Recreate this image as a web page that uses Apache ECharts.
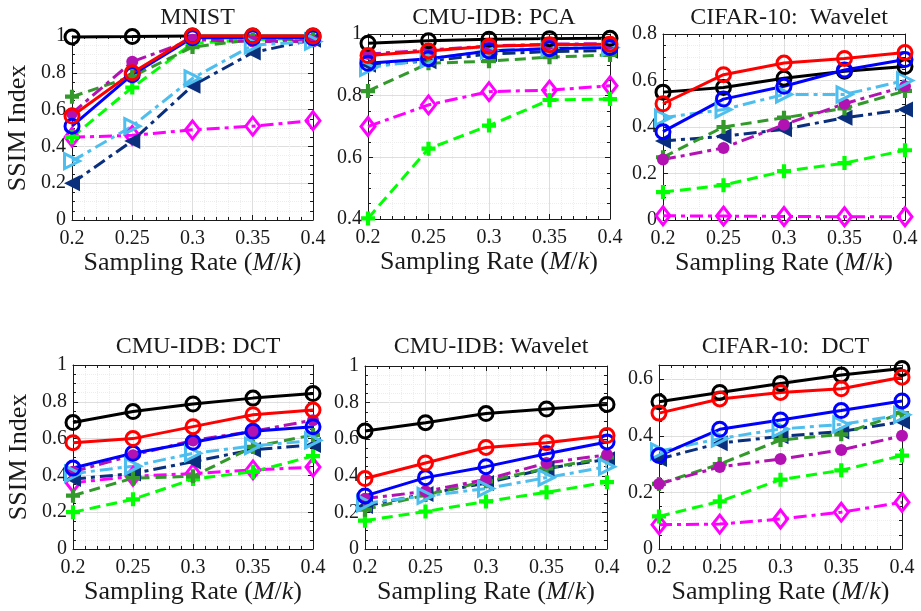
<!DOCTYPE html>
<html>
<head>
<meta charset="utf-8">
<script src="https://cdn.jsdelivr.net/npm/echarts@6/dist/echarts.min.js"></script>
<style>
  html, body { margin: 0; padding: 0; background: #fff; }
  #chart { width: 921px; height: 611px; }
</style>
</head>
<body>
<div id="chart"></div>
<script>
// Sampling rates (M/k) on every x axis
const rates = [0.2, 0.25, 0.3, 0.35, 0.4];
const xTicks = ['0.2', '0.25', '0.3', '0.35', '0.4'];

// Row order inside each panel array
const methods = ['black', 'red', 'blue', 'skyblue', 'navy', 'purple', 'darkgreen', 'lime', 'magenta'];

// SSIM index per method, per panel
const mnist = [
  [0.995, 0.997, 1.0, 1.0, 1.0],
  [0.565, 0.80, 1.0, 1.0, 1.0],
  [0.51, 0.79, 0.99, 0.99, 0.99],
  [0.32, 0.51, 0.77, 0.95, 0.97],
  [0.20, 0.43, 0.73, 0.91, 0.98],
  [0.58, 0.86, 0.98, 0.97, 0.97],
  [0.67, 0.78, 0.94, 0.98, 0.98],
  [0.45, 0.72, 0.96, 0.98, 0.99],
  [0.45, 0.46, 0.49, 0.51, 0.54]
];
const cmuPca = [
  [0.97, 0.978, 0.983, 0.985, 0.986],
  [0.93, 0.945, 0.96, 0.965, 0.967],
  [0.905, 0.92, 0.945, 0.952, 0.956],
  [0.89, 0.918, 0.947, 0.954, 0.956],
  [0.90, 0.912, 0.935, 0.943, 0.946],
  [0.935, 0.948, 0.961, 0.967, 0.969],
  [0.815, 0.905, 0.912, 0.925, 0.932],
  [0.402, 0.628, 0.703, 0.786, 0.789],
  [0.70, 0.77, 0.813, 0.818, 0.832]
];
const cifarWavelet = [
  [0.55, 0.57, 0.61, 0.64, 0.66],
  [0.50, 0.625, 0.675, 0.695, 0.72],
  [0.38, 0.52, 0.575, 0.645, 0.69],
  [0.44, 0.475, 0.54, 0.54, 0.60],
  [0.34, 0.36, 0.39, 0.44, 0.475],
  [0.26, 0.31, 0.41, 0.50, 0.575],
  [0.27, 0.40, 0.44, 0.48, 0.555],
  [0.12, 0.15, 0.21, 0.245, 0.30],
  [0.018, 0.017, 0.015, 0.014, 0.014]
];
const cmuDct = [
  [0.687, 0.747, 0.788, 0.82, 0.845],
  [0.578, 0.60, 0.665, 0.73, 0.755],
  [0.44, 0.52, 0.58, 0.64, 0.665],
  [0.41, 0.45, 0.52, 0.56, 0.59],
  [0.38, 0.41, 0.475, 0.54, 0.565],
  [0.42, 0.51, 0.59, 0.64, 0.70],
  [0.29, 0.385, 0.395, 0.555, 0.62],
  [0.20, 0.27, 0.38, 0.42, 0.505],
  [0.36, 0.395, 0.41, 0.43, 0.445]
];
const cmuWavelet = [
  [0.645, 0.69, 0.74, 0.765, 0.79],
  [0.385, 0.47, 0.555, 0.58, 0.62],
  [0.29, 0.39, 0.45, 0.52, 0.585],
  [0.25, 0.29, 0.33, 0.39, 0.45],
  [0.235, 0.30, 0.36, 0.44, 0.49],
  [0.275, 0.315, 0.38, 0.47, 0.515],
  [0.215, 0.295, 0.37, 0.44, 0.50],
  [0.155, 0.205, 0.26, 0.31, 0.365],
  [null, null, null, null, null]
];
const cifarDct = [
  [0.52, 0.553, 0.585, 0.615, 0.638],
  [0.48, 0.53, 0.553, 0.566, 0.607],
  [0.33, 0.423, 0.456, 0.489, 0.523],
  [0.345, 0.39, 0.424, 0.44, 0.474],
  [0.318, 0.374, 0.398, 0.415, 0.45],
  [0.23, 0.29, 0.318, 0.35, 0.40],
  [0.23, 0.30, 0.385, 0.405, 0.48],
  [0.115, 0.168, 0.245, 0.278, 0.33],
  [0.086, 0.088, 0.106, 0.13, 0.165]
];

const panelTitles = ['MNIST', 'CMU-IDB: PCA', 'CIFAR-10:  Wavelet', 'CMU-IDB: DCT', 'CMU-IDB: Wavelet', 'CIFAR-10:  DCT'];
const panelData = [mnist, cmuPca, cifarWavelet, cmuDct, cmuWavelet, cifarDct];
const yMin = [0, 0.4, 0, 0, 0, 0];
const yMax = [1, 1, 0.8, 1, 1, 0.65];

// Plot boxes in pixels
const boxes = [
  { left: 72, top: 36, width: 241, height: 184 },
  { left: 368, top: 34, width: 242, height: 185 },
  { left: 663, top: 34, width: 242, height: 186 },
  { left: 73, top: 365, width: 240, height: 184 },
  { left: 365, top: 366, width: 242, height: 183 },
  { left: 659, top: 365, width: 243, height: 184 }
];

const FONT = 'Liberation Serif';
const INK = '#1a1a1a';

const PLUS = 'path://M3.5,0H6.5V3.5H10V6.5H6.5V10H3.5V6.5H0V3.5H3.5Z';
const TRI_LEFT = 'path://M0,5L10,0L10,10Z';
const TRI_RIGHT = 'path://M10,5L0,0L0,10Z';
const DASH = [11, 6];
const DASHDOT = [13, 5, 4, 5];

const styles = {
  black:     { color: '#000000', dash: 'solid', symbol: 'circle', size: 14, hollow: true },
  red:       { color: '#ff0000', dash: 'solid', symbol: 'circle', size: 14, hollow: true },
  blue:      { color: '#0000ff', dash: 'solid', symbol: 'circle', size: 14, hollow: true },
  skyblue:   { color: '#4dbeee', dash: DASHDOT, symbol: TRI_RIGHT, size: 15, hollow: true },
  navy:      { color: '#0a2f7d', dash: DASHDOT, symbol: TRI_LEFT, size: 16, hollow: false },
  purple:    { color: '#b312b3', dash: DASHDOT, symbol: 'circle', size: 12, hollow: false },
  darkgreen: { color: '#33992b', dash: DASH, symbol: PLUS, size: 14, hollow: false },
  lime:      { color: '#00ff00', dash: DASH, symbol: PLUS, size: 14, hollow: false },
  magenta:   { color: '#ff00ff', dash: DASHDOT, symbol: 'diamond', size: [14, 18], hollow: true }
};
// Draw order, bottom to top
const drawOrder = ['magenta', 'lime', 'navy', 'darkgreen', 'purple', 'skyblue', 'black', 'blue', 'red'];

const grid = [], xAxis = [], yAxis = [], series = [], title = [];

boxes.forEach((b, p) => {
  grid.push(Object.assign({ containLabel: false }, b));
  title.push({
    text: panelTitles[p],
    left: b.left + b.width / 2,
    top: b.top < 100 ? 1 : 330,
    textAlign: 'center',
    textStyle: { fontFamily: FONT, fontSize: 24, fontWeight: 'normal', color: INK }
  });

  const tickCommon = {
    axisLine: { show: true, onZero: false, lineStyle: { color: INK, width: 1 } },
    axisTick: { show: true, inside: true, length: 5, lineStyle: { color: INK } },
    minorTick: { show: true, splitNumber: 5, length: 3, lineStyle: { color: INK } }
  };

  // bottom x axis with labels
  xAxis.push(Object.assign({
    type: 'value', gridIndex: p, min: 0.2, max: 0.4, interval: 0.05,
    position: 'bottom',
    axisLabel: {
      fontFamily: FONT, fontSize: 20, color: INK, margin: 9,
      formatter: v => {
        const i = rates.findIndex(r => Math.abs(r - v) < 1e-6);
        return i >= 0 ? xTicks[i] : '';
      }
    },
    splitLine: { show: true, lineStyle: { color: '#dedede', width: 1 } },
    minorSplitLine: { show: true, lineStyle: { color: '#eeeeee', type: 'dotted', width: 1 } },
    name: 'Sampling Rate ({i|M}/{i|k})',
    nameLocation: 'middle',
    nameGap: 29,
    nameTextStyle: {
      fontFamily: FONT, fontSize: 26, color: INK,
      rich: { i: { fontFamily: FONT, fontSize: 26, fontStyle: 'italic', color: INK } }
    }
  }, tickCommon));
  // top x axis (box edge with ticks only)
  xAxis.push(Object.assign({
    type: 'value', gridIndex: p, min: 0.2, max: 0.4, interval: 0.05,
    position: 'top', axisLabel: { show: false }, splitLine: { show: false }
  }, tickCommon));

  const yMinor = { minorTick: { show: true, splitNumber: 4, length: 3, lineStyle: { color: INK } } };
  yAxis.push(Object.assign({
    type: 'value', gridIndex: p, min: yMin[p], max: yMax[p], interval: 0.2,
    position: 'left',
    axisLabel: {
      fontFamily: FONT, fontSize: 20, color: INK, margin: 6, showMaxLabel: p !== 5,
      formatter: v => (Math.round(v * 100) / 100).toString()
    },
    splitLine: { show: true, lineStyle: { color: '#dedede', width: 1 } },
    minorSplitLine: { show: true, lineStyle: { color: '#eeeeee', type: 'dotted', width: 1 } },
    name: (p === 0 || p === 3) ? 'SSIM Index' : '',
    nameLocation: 'middle',
    nameGap: 41,
    nameTextStyle: { fontFamily: FONT, fontSize: 26, color: INK }
  }, tickCommon, yMinor));
  yAxis.push(Object.assign({
    type: 'value', gridIndex: p, min: yMin[p], max: yMax[p], interval: 0.2,
    position: 'right', axisLabel: { show: false }, splitLine: { show: false }
  }, tickCommon, yMinor));

  const rows = panelData[p];
  drawOrder.forEach(key => {
    const vals = rows[methods.indexOf(key)];
    const s = styles[key];
    series.push({
      type: 'line',
      name: key,
      xAxisIndex: p * 2,
      yAxisIndex: p * 2,
      data: rates.map((r, i) => [r, vals[i]]),
      symbol: s.symbol,
      symbolSize: s.size,
      showAllSymbol: true,
      clip: false,
      lineStyle: { color: s.color, width: 3, type: s.dash },
      itemStyle: s.hollow
        ? { color: 'rgba(255,255,255,0)', borderColor: s.color, borderWidth: 3 }
        : { color: s.color, borderWidth: 0 },
      emphasis: { disabled: true },
      z: 3
    });
  });
});

const chart = echarts.init(document.getElementById('chart'), null, { renderer: 'canvas' });
chart.setOption({
  animation: false,
  backgroundColor: '#ffffff',
  title, grid, xAxis, yAxis, series
});
</script>
</body>
</html>
